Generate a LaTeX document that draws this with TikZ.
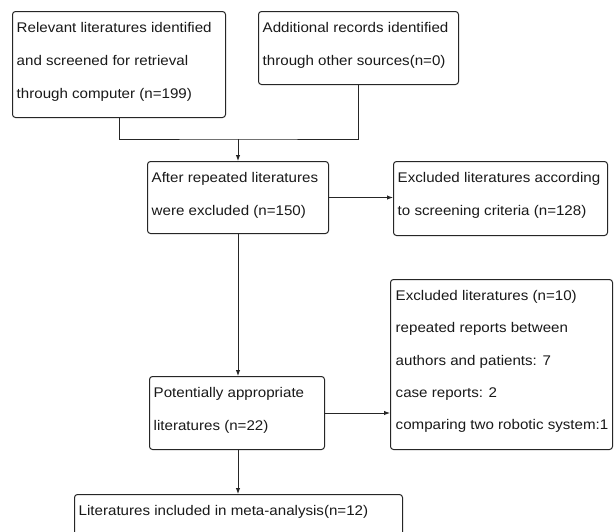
\documentclass[tikz,border=0pt]{standalone}
\usepackage{fontspec}
\setmainfont{Liberation Sans}[FakeStretch=1.08]
\usetikzlibrary{arrows.meta}
\tikzset{
  box/.style={draw=black!85, line width=1pt, rounded corners=3pt, inner sep=0pt, fill=white},
  txt/.style={inner sep=0pt, anchor=base west, text=black!90, font=\fontsize{14}{33}\selectfont},
  conn/.style={draw=black!85, line width=1pt},
  arr/.style={conn, -{Latex[length=6pt,width=4.5pt]}}
}
\newcommand{\mlines}[1]{\vtop{\baselineskip=33pt\lineskiplimit=0pt #1}}
\begin{document}
\begin{tikzpicture}[x=1pt,y=1pt]
\clip (0,0) rectangle (614,-531);
\fill[white] (0,0) rectangle (614,-531);
% boxes
\node[box, minimum width=213pt, minimum height=106pt, anchor=north west] (b1) at (12,-11) {};
\node[box, minimum width=200pt, minimum height=73pt, anchor=north west] (b2) at (258,-11) {};
\node[box, minimum width=181pt, minimum height=72pt, anchor=north west] (b3) at (147,-161) {};
\node[box, minimum width=214pt, minimum height=74pt, anchor=north west] (b4) at (393,-161) {};
\node[box, minimum width=175pt, minimum height=73pt, anchor=north west] (b5) at (149,-376) {};
\node[box, minimum width=222pt, minimum height=170pt, anchor=north west] (b6) at (390,-279) {};
\node[box, minimum width=328pt, minimum height=70pt, anchor=north west] (b7) at (74,-494) {};
% texts
\node[txt] (t1) at (16.5,-32.5) {\mlines{\hbox{Relevant literatures identified}\hbox{and screened for retrieval}\hbox{through computer (n=199)}}};
\node[txt] (t2) at (262.5,-32.5) {\mlines{\hbox{Additional records identified}\hbox{through other sources(n=0)}}};
\node[txt] (t3) at (151.5,-182.5) {\mlines{\hbox{After repeated literatures}\hbox{were excluded (n=150)}}};
\node[txt] (t4) at (397.5,-182.5) {\mlines{\hbox{Excluded literatures according}\hbox{to screening criteria (n=128)}}};
\node[txt] (t5) at (153.5,-397.5) {\mlines{\hbox{Potentially appropriate}\hbox{literatures (n=22)}}};
\node[txt] (t6) at (395.5,-300.5) {\vtop{\baselineskip=32.3pt\lineskiplimit=0pt\hbox{Excluded literatures (n=10)}\hbox{repeated reports between}\hbox{authors and patients: 7}\hbox{case reports: 2}\hbox{comparing two robotic system:1}}};
\node[txt] (t7) at (78.5,-515.5) {Literatures included in meta-analysis(n=12)};
% connectors
\coordinate (m) at (238,-139);
\draw[conn] (b1.south) |- (m) -| (b2.south);
\draw[arr] (m) -- (b3.north -| m);
\draw[arr] (b3.east) -- (b4.west |- b3.east);
\draw[arr] (b3.south -| m) -- (b5.north -| m);
\draw[arr] (b5.east) -- (b6.west |- b5.east);
\draw[arr] (b5.south -| m) -- (b7.north -| m);
\end{tikzpicture}
\end{document}
